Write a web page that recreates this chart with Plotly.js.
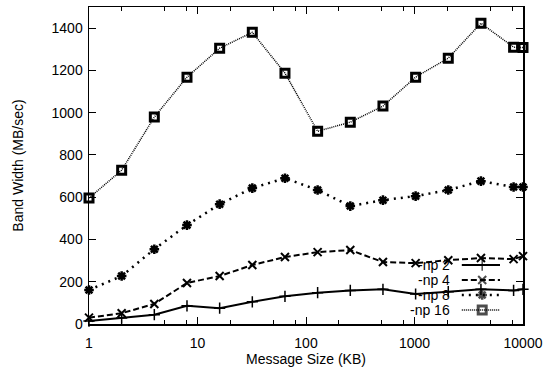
<!DOCTYPE html>
<html>
<head>
<meta charset="utf-8">
<script src="https://cdn.plot.ly/plotly-3.0.1.min.js"></script>
<style>html,body{margin:0;padding:0;background:#fff;}#chart{width:547px;height:375px;}</style>
</head>
<body>
<div id="chart"></div>
<script>
// Message sizes (KB)
const sizes = [1, 2, 4, 8, 16, 32, 64, 128, 256, 512, 1024, 2048, 4096, 8192, 10000];
// Band width (MB/sec)
const np2  = [14, 28, 44, 86, 75, 105, 131, 148, 159, 164, 142, 153, 164, 159, 164];
const np4  = [30, 51, 95, 194, 227, 279, 317, 340, 350, 293, 288, 302, 312, 307, 321];
const np8  = [161, 227, 354, 468, 567, 643, 690, 634, 558, 586, 605, 634, 676, 648, 648];
const np16 = [596, 728, 979, 1168, 1305, 1380, 1187, 912, 955, 1031, 1168, 1258, 1423, 1310, 1308];
const seriesNames = ["-np 2", "-np 4", "-np 8", "-np 16"];
const xTickVals = [1, 10, 100, 1000, 10000];
const xTickText = ["1", "10", "100", "1000", "10000"];
const yTickVals = [0, 200, 400, 600, 800, 1000, 1200, 1400];

const FONT = "Liberation Sans, Arial, Helvetica, sans-serif";
const styles = [
  {line: {color: "#000", width: 2, dash: "solid"}, marker: {symbol: "cross-thin-open", size: 8, line: {color: "#000", width: 1.5}}},
  {line: {color: "#000", width: 2, dash: "6px,3px"}, marker: {symbol: "x-thin-open", size: 8, line: {color: "#000", width: 2}}},
  {line: {color: "#000", width: 2.5, dash: "2px,5px"}, marker: {symbol: "asterisk-open", size: 8, line: {color: "#000", width: 2.5}}},
  {line: {color: "#000", width: 1.5, dash: "1px,1px"}, marker: {symbol: "square-open", size: 8, color: "#000", line: {color: "#000", width: 3}}}
];
const data = [np2, np4, np8, np16];

const traces = data.map((ys, i) => ({
  x: sizes, y: ys, type: "scatter", mode: "lines+markers", name: seriesNames[i],
  line: styles[i].line, marker: styles[i].marker, showlegend: false, cliponaxis: false,
  hoverinfo: "x+y"
}));

// custom gnuplot-style legend (text left of sample)
const legRows = [0.186, 0.139, 0.0915, 0.044];
const legX0 = 0.859, legXm = 0.906, legX1 = 0.947, legTextX = 0.836;
const annotations = [];
seriesNames.forEach((n, i) => {
  traces.push({
    x: [legX0, legXm, legX1], y: [legRows[i], legRows[i], legRows[i]],
    xaxis: "x2", yaxis: "y2", type: "scatter", mode: "lines+markers",
    line: styles[i].line,
    marker: Object.assign({}, styles[i].marker, {size: [0, styles[i].marker.size, 0]}),
    showlegend: false, hoverinfo: "skip", cliponaxis: false
  });
  annotations.push({
    xref: "paper", yref: "paper", x: legTextX, y: legRows[i], text: n,
    showarrow: false, xanchor: "right", yanchor: "middle",
    font: {family: FONT, size: 14, color: "#000"}
  });
});

const layout = {
  width: 547, height: 375,
  margin: {l: 89, r: 24, t: 7, b: 51, pad: 0},
  paper_bgcolor: "#fff", plot_bgcolor: "#fff",
  font: {family: FONT, size: 14, color: "#000"},
  showlegend: false,
  xaxis: {
    type: "log", range: [0, 4], tickvals: xTickVals, ticktext: xTickText,
    ticks: "inside", ticklen: 7, tickwidth: 1, tickcolor: "#000",
    showline: true, linecolor: "#000", linewidth: 1.5, mirror: "ticks",
    showgrid: false, zeroline: false,
    minor: {tickvals: [2,5,8,20,50,80,200,500,800,2000,5000,8000], ticks: "inside", ticklen: 4, tickcolor: "#000", showgrid: false},
    tickfont: {family: FONT, size: 14}, ticklabelstandoff: 6,
    title: {text: "Message Size (KB)", font: {family: FONT, size: 14}, standoff: 0}
  },
  yaxis: {
    range: [0, 1500], tickvals: yTickVals,
    ticks: "inside", ticklen: 7, tickwidth: 1, tickcolor: "#000",
    showline: true, linecolor: "#000", linewidth: 1.5, mirror: "ticks",
    showgrid: false, zeroline: false,
    tickfont: {family: FONT, size: 14}, ticklabelstandoff: 2,
    title: {text: "Band Width (MB/sec)", font: {family: FONT, size: 14}, standoff: 24}
  },
  xaxis2: {overlaying: "x", range: [0, 1], visible: false, fixedrange: true},
  yaxis2: {overlaying: "y", range: [0, 1], visible: false, fixedrange: true},
  annotations: annotations
};

Plotly.newPlot("chart", traces, layout, {displayModeBar: false, staticPlot: true});
</script>
</body>
</html>
